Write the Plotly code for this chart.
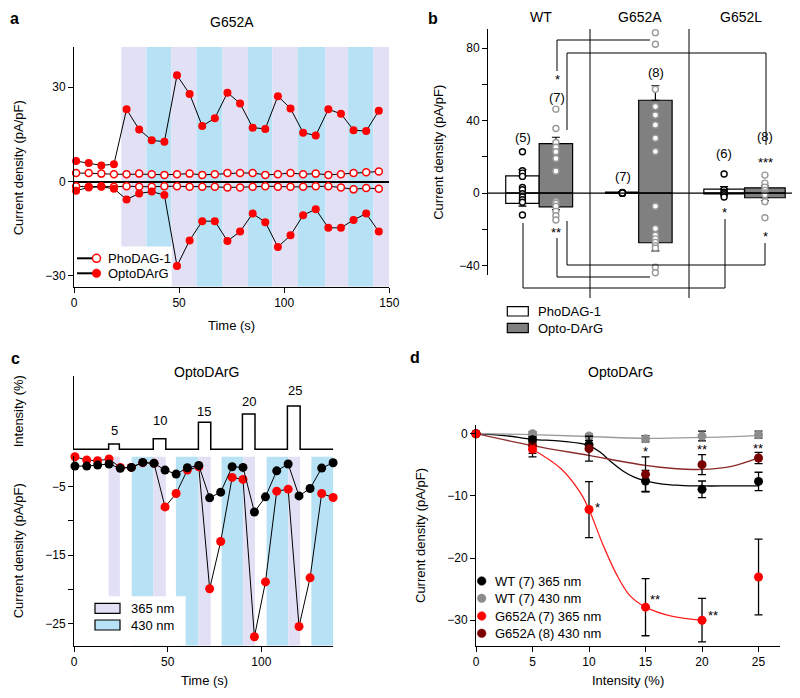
import plotly.graph_objects as go

# page body has an 8px margin; figure is sized/offset so page pixels match the reference
OFF = 8
W, H = 800 - OFF, 698 - OFF
def X(px): return (px - OFF) / W
def Y(py): return 1 - (py - OFF) / H

FONT = "Liberation Sans, Arial, Helvetica, sans-serif"
LAV = "#e2e0f5"
BLU = "#b7e1f4"
RED = "#ff0000"

# ---------------- Panel a data ----------------
a_time = [1, 7, 13, 19, 25, 31, 37, 43, 49, 55, 61, 67, 73, 79, 85, 91, 97, 103, 109, 115, 121, 127, 133, 139, 145]
a_opto_pos = [6.5, 5.9, 5.1, 5.5, 22.9, 16.5, 13.1, 12.6, 33.7, 27.8, 17.6, 20.1, 28.2, 24.8, 17.1, 16.7, 27.1, 23.2, 15.5, 14.6, 22.9, 21.5, 16.3, 16.0, 22.5]
a_opto_neg = [-2.9, -1.9, -1.7, -2.3, -5.7, -3.8, -3.2, -4.3, -26.8, -18.7, -12.6, -12.6, -18.9, -15.9, -10.2, -12.9, -20.8, -17.1, -10.7, -8.8, -14.7, -14.7, -12.2, -10.2, -15.9]
a_pho_pos = [2.7, 2.7, 2.5, 2.3, 2.3, 2.5, 2.3, 2.1, 2.3, 2.5, 2.1, 2.3, 2.7, 2.7, 2.7, 2.1, 2.3, 2.7, 2.3, 2.5, 2.1, 2.3, 2.7, 2.9, 3.2]
a_pho_neg = [-1.5, -1.7, -1.5, -1.7, -1.5, -1.7, -1.7, -1.5, -1.5, -1.7, -1.7, -1.7, -1.9, -1.9, -1.7, -1.5, -1.7, -1.7, -1.7, -1.5, -1.5, -1.9, -2.5, -2.1, -2.3]
a_band_edges = [22.5, 34.5, 46.3, 58.3, 70.6, 82.8, 94.3, 106.5, 119.5, 130.4, 142.4, 150]

# ---------------- Panel b data ----------------
b_groups = ["WT", "G652A", "G652L"]
b_pho_pos = [9.5, 0.5, 2.2]
b_pho_neg = [-5.7, -0.1, -0.5]
b_pho_pos_err = [3.5, 0.2, 1.3]
b_pho_neg_err = [1.5, 0.1, 0.4]
b_opto_pos = [27.3, 51.2, 2.9]
b_opto_neg = [-7.6, -27.4, -2.6]
b_opto_pos_err = [3.5, 8.0, 1.0]
b_opto_neg_err = [1.5, 4.5, 1.5]
b_pho_pts = [
    [22.8, 12.3, 11.0, 9.2, 3.1, 1.8, -0.4, -2.2, -3.7, -5.1, -12.1],
    [0.4, 0.2, 0.0, -0.1, -0.2, 0.1, 0.0],
    [10.5, 1.8, 0.5, 0.0, -0.9, -2.2],
]
b_opto_pts = [
    [46.3, 35.6, 27.9, 25.3, 22.8, 19.1, 12.1, -4.8, -5.7, -7.3, -10.1, -12.5, -14.9],
    [88.5, 82.1, 57.2, 47.7, 43.0, 37.6, 30.3, 22.9, -7.3, -19.6, -23.3, -25.3, -27.2, -29.0, -30.3, -40.9, -44.0],
    [9.9, 5.5, 3.3, 1.5, 0.0, -0.9, -4.8, -13.6],
]
b_n_pho = ["(5)", "(7)", "(6)"]
b_n_opto = ["(7)", "(8)", "(8)"]

# ---------------- Panel c data ----------------
c_time = [0.5, 6.8, 12.6, 18.7, 24.7, 30.6, 36.7, 42.7, 48.6, 54.5, 60.5, 66.6, 72.4, 78.3, 84.4, 90.2, 96.3, 102.2, 108.2, 114.3, 120.1, 126.0, 132.2, 138.3]
c_wt = [-2.0, -2.0, -1.85, -1.7, -2.33, -2.19, -1.46, -1.6, -2.58, -3.17, -2.25, -1.9, -6.63, -5.8, -2.1, -2.19, -8.69, -6.49, -2.69, -1.7, -6.35, -5.27, -2.29, -1.52]
c_g652a = [-0.64, -1.12, -1.22, -0.97, -2.2, -2.19, -1.5, -1.6, -7.96, -6.0, -2.58, -2.1, -19.9, -13.0, -3.65, -3.94, -26.9, -18.9, -5.66, -5.37, -25.4, -18.3, -6.0, -6.58]
c_band_start = [18.5, 30.8, 42.3, 54.4, 66.4, 78.8, 90.4, 102.8, 114.4, 126.7]
c_band_end = [24.5, 42.3, 49.0, 66.4, 73.0, 90.4, 96.6, 114.4, 120.7, 138.4]
c_band_nm = [365, 430, 365, 430, 365, 430, 365, 430, 365, 430]
c_pulse_start = [18.5, 42.3, 66.4, 89.9, 113.9]
c_pulse_end = [24.2, 49.0, 73.0, 96.6, 120.7]
c_pulse_label = [5, 10, 15, 20, 25]
c_pulse_height = [5.3, 10.6, 27.0, 35.3, 43.3]   # drawn heights (arbitrary units)
c_trace_end = 138.4

# ---------------- Panel d data ----------------
d_int = [0, 5, 10, 15, 20, 25]
d_wt365 = [0, -0.96, -1.77, -7.6, -8.95, -7.67]
d_wt365_err = [0, 0.5, 0.7, 1.7, 1.34, 1.47]
d_wt430 = [0, 0.0, -0.38, -0.8, -0.38, -0.16]
d_wt430_err = [0, 0.3, 0.3, 0.5, 0.78, 0.56]
d_a365 = [0, -2.52, -12.2, -27.9, -30.0, -23.05]
d_a365_err = [0, 1.2, 4.5, 4.6, 3.5, 6.1]
d_a430 = [0, -1.88, -2.41, -6.54, -4.98, -3.91]
d_a430_err = [0, 1.3, 2.0, 2.8, 1.6, 0.9]
d_fit_wt365_x = [0, 2.5, 5, 7.5, 10, 11, 12, 13, 14, 15, 16.5, 18, 20, 22.5, 25]
d_fit_wt365_y = [0, -0.3, -0.9, -1.2, -1.9, -3.0, -4.6, -6.0, -7.0, -7.6, -8.1, -8.3, -8.4, -8.4, -8.4]
d_fit_wt430_x = [0, 5, 10, 15, 20, 25]
d_fit_wt430_y = [0, -0.15, -0.45, -0.75, -0.6, -0.3]
d_fit_a430_x = [0, 5, 10, 15, 17.5, 20, 22.5, 25]
d_fit_a430_y = [0, -1.9, -3.5, -5.1, -5.6, -5.75, -5.3, -3.9]
d_fit_a365_x = [5, 7.5, 9.2, 10, 11.2, 12.4, 13.6, 15, 17.4, 20]
d_fit_a365_y = [-2.5, -5.6, -9.4, -12.2, -17.7, -22.5, -26.0, -27.9, -29.4, -30.0]
d_names = ["WT (7) 365 nm", "WT (7) 430 nm", "G652A (7) 365 nm", "G652A (8) 430 nm"]
d_colors = ["#000000", "#8c8c8c", "#ff0000", "#7a0000"]
d_line_colors = ["#000000", "#9a9a9a", "#ff2020", "#8b2a2a"]

# ---------------- figure ----------------
fig = go.Figure()
shapes = []
annotations = []

def ann(text, px, py, size=12, bold=False, xanchor="center", yanchor="middle", textangle=0, yshift=0):
    annotations.append(dict(text=f"<b>{text}</b>" if bold else text, x=X(px), y=Y(py),
                            xref="paper", yref="paper", showarrow=False, xanchor=xanchor,
                            yanchor=yanchor, textangle=textangle, yshift=yshift,
                            font=dict(size=size, family=FONT, color="black")))

def pline(pts, width=1.0):
    for (x0, y0), (x1, y1) in zip(pts[:-1], pts[1:]):
        shapes.append(dict(type="line", xref="paper", yref="paper", x0=X(x0), y0=Y(y0),
                           x1=X(x1), y1=Y(y1), line=dict(color="black", width=width), layer="above"))

def pdot(px, py, fill, edge, r=4, lw=1.5):
    shapes.append(dict(type="circle", xref="paper", yref="paper", xsizemode="pixel", ysizemode="pixel",
                       xanchor=X(px), yanchor=Y(py), x0=-r, x1=r, y0=-r, y1=r,
                       fillcolor=fill, line=dict(color=edge, width=lw), layer="above"))

def prect(x0, y0, x1, y1, fill):
    shapes.append(dict(type="rect", xref="paper", yref="paper", x0=X(x0), x1=X(x1), y0=Y(y1), y1=Y(y0),
                       fillcolor=fill, line=dict(color="black", width=1.2), layer="above"))

# ---- Panel a
A_YLO, A_YHI = -33.4, 42.7
for i in range(len(a_band_edges) - 1):
    shapes.append(dict(type="rect", xref="x", yref="y", x0=a_band_edges[i], x1=a_band_edges[i + 1],
                       y0=A_YLO, y1=A_YHI, fillcolor=LAV if i % 2 == 0 else BLU, line=dict(width=0), layer="below"))
shapes.append(dict(type="rect", xref="x", yref="y", x0=0, x1=46.5, y0=A_YLO, y1=-20.6,
                   fillcolor="white", line=dict(width=0), layer="below"))

for ys in (a_pho_pos, a_pho_neg):
    fig.add_trace(go.Scatter(x=a_time, y=ys, mode="lines+markers", xaxis="x", yaxis="y",
                             line=dict(color="black", width=1),
                             marker=dict(size=7, color="white", line=dict(color=RED, width=1.5)),
                             showlegend=False, cliponaxis=False))
for ys in (a_opto_pos, a_opto_neg):
    fig.add_trace(go.Scatter(x=a_time, y=ys, mode="lines+markers", xaxis="x", yaxis="y",
                             line=dict(color="black", width=1),
                             marker=dict(size=8, color=RED, line=dict(width=0)),
                             showlegend=False, cliponaxis=False))

pline([(77, 258.3), (100, 258.3)], width=2)
pdot(96.5, 258.3, "white", RED, r=4, lw=1.5)
ann("PhoDAG-1", 106, 258.3, size=13, xanchor="left")
pline([(77, 273.3), (100, 273.3)], width=2)
pdot(96.5, 273.3, RED, RED, r=4.3, lw=0.5)
ann("OptoDArG", 106, 273.3, size=13, xanchor="left")

ann("a", 14, 8.5, size=16, bold=True, yanchor="top")
ann("G652A", 231.7, 22, size=14)
ann("Current density (pA/pF)", 18.3, 168, size=13, textangle=-90)
ann("Time (s)", 231.7, 325, size=13)

# ---- Panel b
PHO_X = [-0.16, 0.826, 1.83]
OPTO_X = [0.17, 1.152, 2.233]
BAR_W = [0.33, 0.33, 0.4]
GRAY = "#808080"
fig.add_trace(go.Bar(x=PHO_X, y=b_pho_pos, width=BAR_W, xaxis="x2", yaxis="y2",
                     marker=dict(color="white", line=dict(color="black", width=1.2)),
                     error_y=dict(type="data", symmetric=False, array=b_pho_pos_err, arrayminus=[0, 0, 0],
                                  color="black", thickness=1.2, width=4), showlegend=False))
fig.add_trace(go.Bar(x=PHO_X, y=b_pho_neg, width=BAR_W, xaxis="x2", yaxis="y2",
                     marker=dict(color="white", line=dict(color="black", width=1.2)),
                     error_y=dict(type="data", symmetric=False, array=[0, 0, 0], arrayminus=b_pho_neg_err,
                                  color="black", thickness=1.2, width=4), showlegend=False))
fig.add_trace(go.Bar(x=OPTO_X, y=b_opto_pos, width=BAR_W, xaxis="x2", yaxis="y2",
                     marker=dict(color=GRAY, line=dict(color="black", width=1.2)),
                     error_y=dict(type="data", symmetric=False, array=b_opto_pos_err, arrayminus=[0, 0, 0],
                                  color="black", thickness=1.2, width=4), showlegend=False))
fig.add_trace(go.Bar(x=OPTO_X, y=b_opto_neg, width=BAR_W, xaxis="x2", yaxis="y2",
                     marker=dict(color=GRAY, line=dict(color="black", width=1.2)),
                     error_y=dict(type="data", symmetric=False, array=[0, 0, 0], arrayminus=b_opto_neg_err,
                                  color="black", thickness=1.2, width=4), showlegend=False))
for gi in range(3):
    fig.add_trace(go.Scatter(x=[PHO_X[gi]] * len(b_pho_pts[gi]), y=b_pho_pts[gi], mode="markers",
                             xaxis="x2", yaxis="y2", cliponaxis=False, showlegend=False,
                             marker=dict(size=6, color="white", line=dict(color="black", width=1.4))))
    fig.add_trace(go.Scatter(x=[OPTO_X[gi]] * len(b_opto_pts[gi]), y=b_opto_pts[gi], mode="markers",
                             xaxis="x2", yaxis="y2", cliponaxis=False, showlegend=False,
                             marker=dict(size=6, color="white", line=dict(color="#999999", width=1.4))))
shapes.append(dict(type="line", xref="x2", yref="y2", x0=-0.5, x1=2.5, y0=0, y1=0,
                   line=dict(color="black", width=1.2), layer="above"))
pline([(590, 29), (590, 298)])
pline([(689, 29), (689, 298)])
pline([(557, 71), (557, 40), (650, 40)])
pline([(567, 130), (567, 53), (766, 53), (766, 145)])
pline([(567, 221), (567, 265), (765, 265), (765, 243)])
pline([(557, 238), (557, 277), (650, 277)])
pline([(523, 223), (523, 288), (725, 288), (725, 219)])

ann("b", 433, 8.5, size=16, bold=True, yanchor="top")
for name, px in zip(b_groups, [540.7, 640, 740.7]):
    ann(name, px, 17.5, size=14)
ann("Current density (pA/pF)", 438.3, 152.5, size=13, textangle=-90)
ann(b_n_pho[0], 523, 137, size=13)
ann(b_n_opto[0], 557, 97, size=13)
ann(b_n_opto[1], 656, 72, size=13)
ann(b_n_pho[1], 622.7, 176.7, size=13)
ann(b_n_pho[2], 724, 154, size=13)
ann(b_n_opto[2], 765, 136, size=13)
ann("*", 557, 77, size=13, yshift=-3)
ann("***", 765, 159, size=13, yshift=-3)
ann("*", 724, 209, size=13, yshift=-3)
ann("*", 765, 233, size=13, yshift=-3)
ann("**", 556, 230, size=13, yshift=-3)
prect(507.3, 306.7, 528.3, 316, "white")
ann("PhoDAG-1", 536, 311.3, size=13, xanchor="left")
prect(507.3, 323.3, 528.3, 332.6, GRAY)
ann("Opto-DArG", 536, 328, size=13, xanchor="left")

# ---- Panel c (intensity protocol)
step_x, step_y = [0], [0]
for s, e, h in zip(c_pulse_start, c_pulse_end, c_pulse_height):
    step_x += [s, e]
    step_y += [h, 0]
step_x.append(c_trace_end)
step_y.append(0)
fig.add_trace(go.Scatter(x=step_x, y=step_y, mode="lines", line=dict(color="black", width=1.5, shape="hv"),
                         xaxis="x3", yaxis="y3", showlegend=False, cliponaxis=False))
c_label_px = [(114, 430), (160, 421), (204.3, 411), (249.3, 401), (295, 390.7)]
for lab, (px, py) in zip(c_pulse_label, c_label_px):
    ann(str(lab), px, py, size=13)

# ---- Panel c (currents)
C_YLO, C_YHI = -28.2, -0.5
for s, e, nm in zip(c_band_start, c_band_end, c_band_nm):
    shapes.append(dict(type="rect", xref="x4", yref="y4", x0=s, x1=e, y0=C_YLO, y1=-0.65,
                       fillcolor=LAV if nm == 365 else BLU, line=dict(width=0), layer="below"))
shapes.append(dict(type="rect", xref="x4", yref="y4", x0=0, x1=59.6, y0=C_YLO, y1=-21.0,
                   fillcolor="white", line=dict(width=0), layer="below"))
fig.add_trace(go.Scatter(x=c_time, y=c_g652a, mode="lines+markers", xaxis="x4", yaxis="y4",
                         line=dict(color="black", width=1), marker=dict(size=9, color=RED),
                         showlegend=False, cliponaxis=False))
fig.add_trace(go.Scatter(x=c_time, y=c_wt, mode="lines+markers", xaxis="x4", yaxis="y4",
                         line=dict(color="black", width=1), marker=dict(size=9, color="black"),
                         showlegend=False, cliponaxis=False))
prect(95, 603.3, 120, 613.3, LAV)
ann("365 nm", 129.3, 608.5, size=13, xanchor="left")
prect(95, 620, 120, 630, BLU)
ann("430 nm", 129.3, 625, size=13, xanchor="left")

ann("c", 15, 358, size=16, bold=True)
ann("OptoDArG", 206.7, 372, size=14)
ann("Intensity (%)", 18.3, 411, size=13, textangle=-90)
ann("Current density (pA/pF)", 18.3, 551, size=13, textangle=-90)
ann("Time (s)", 204, 680, size=13)

# ---- Panel d
fits = [(d_fit_wt365_x, d_fit_wt365_y), (d_fit_wt430_x, d_fit_wt430_y),
        (d_fit_a365_x, d_fit_a365_y), (d_fit_a430_x, d_fit_a430_y)]
for (fx, fy), lc in zip(fits, d_line_colors):
    fig.add_trace(go.Scatter(x=fx, y=fy, mode="lines", line=dict(color=lc, width=1.3, shape="spline", smoothing=1),
                             xaxis="x5", yaxis="y5", showlegend=False, cliponaxis=False))
series = [(d_wt430, d_wt430_err), (d_wt365, d_wt365_err), (d_a430, d_a430_err), (d_a365, d_a365_err)]
order = [1, 0, 3, 2]
for k, (ys, es) in zip(order, series):
    fig.add_trace(go.Scatter(x=d_int, y=ys, mode="markers", xaxis="x5", yaxis="y5",
                             marker=dict(size=9, color=d_colors[k]),
                             error_y=dict(type="data", array=es, color="black", thickness=1.3, width=4),
                             showlegend=False, cliponaxis=False))
for i, (nm, col) in enumerate(zip(d_names, d_colors)):
    py = [581, 598.3, 616, 633.3][i]
    pdot(481.7, py, col, col, r=4.3, lw=0.5)
    ann(nm, 493, py, size=13, xanchor="left")
ann("*", 645.7, 448.3, size=13, yshift=-3)
ann("**", 701.7, 446.7, size=13, yshift=-3)
ann("**", 758.3, 445, size=13, yshift=-3)
ann("*", 597.3, 504.3, size=13, yshift=-3)
ann("**", 655, 596.7, size=13, yshift=-3)
ann("**", 713.3, 612, size=13, yshift=-3)

ann("d", 415, 357, size=16, bold=True)
ann("OptoDArG", 620, 372, size=14)
ann("Current density (pA/pF)", 420, 536, size=13, textangle=-90)
ann("Intensity (%)", 628.3, 680.7, size=13)

# ---------------- axes ----------------
axc = dict(showgrid=False, zeroline=False, showline=True, linecolor="black", linewidth=1,
           ticks="outside", ticklen=5, tickwidth=1, tickcolor="black",
           tickfont=dict(size=12, family=FONT, color="black"))
M = "\u2212"
fig.update_layout(
    width=W, height=H, margin=dict(l=0, r=0, t=0, b=0, autoexpand=False),
    paper_bgcolor="white", plot_bgcolor="white", showlegend=False, barmode="overlay",
    font=dict(family=FONT, size=12, color="black"),
    xaxis=dict(axc, domain=[X(74), X(389.3)], range=[0, 150], tickvals=[0, 50, 100, 150], anchor="y"),
    yaxis=dict(axc, domain=[Y(286.7), Y(47)], range=[A_YLO, A_YHI], tickvals=[-30, 0, 30],
               zeroline=True, zerolinecolor="black", zerolinewidth=1.5, anchor="x"),
    xaxis2=dict(domain=[X(488), X(792)], range=[-0.5, 2.5], visible=False, anchor="y2"),
    yaxis2=dict(axc, domain=[Y(275), Y(29)], range=[-45.2, 90.5], tickvals=[-40, -20, 0, 20, 40, 60, 80],
                ticktext=[M + "40", "", "0", "", "40", "", "80"], anchor="x2"),
    xaxis3=dict(domain=[X(74), X(333.3)], range=[0, c_trace_end], visible=False, anchor="y3"),
    yaxis3=dict(domain=[Y(450), Y(376)], range=[-0.7, 73.3], showline=True, linecolor="black", linewidth=1,
                ticks="", showticklabels=False, showgrid=False, zeroline=False, anchor="x3"),
    xaxis4=dict(axc, domain=[X(74), X(333.3)], range=[0, c_trace_end], tickvals=[0, 50, 100], anchor="y4"),
    yaxis4=dict(axc, domain=[Y(645.7), Y(455.8)], range=[C_YLO, C_YHI], tickvals=[-25, -20, -15, -10, -5],
                ticktext=[M + "25", "", M + "15", "", M + "5"], anchor="x4"),
    xaxis5=dict(axc, domain=[X(476), X(780)], range=[0, 26.9], tickvals=[0, 5, 10, 15, 20, 25], anchor="y5"),
    yaxis5=dict(axc, domain=[Y(645.7), Y(425)], range=[-34.1, 1.4], tickvals=[-30, -20, -10, 0], anchor="x5"),
    shapes=shapes, annotations=annotations,
)

fig.write_html("out.html")
